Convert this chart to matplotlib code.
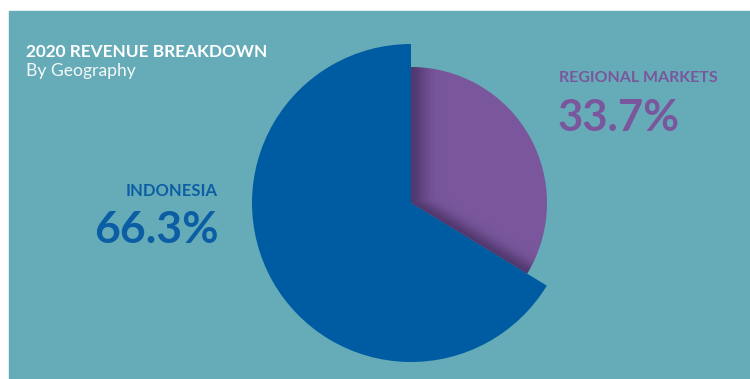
import numpy as np
import matplotlib as mpl
import matplotlib.pyplot as plt
from matplotlib.patches import Rectangle

mpl.rc('font', family=['Lato', 'DejaVu Sans'])

# data
labels = ['REGIONAL MARKETS', 'INDONESIA']
shares = [33.7, 66.3]
colors = ['#7a579c', '#005ca2']
teal = '#66acb8'

W, H = 750, 379
fig = plt.figure(figsize=(W / 100, H / 100), dpi=100, facecolor='white')
ax = fig.add_axes([0, 0, 1, 1])
ax.set_axis_off()

# teal panel
ax.add_patch(Rectangle((9, 0), W - 9, H - 11, color=teal, zorder=0))

cx, cy = 411, H - 203
wedges, _ = ax.pie(shares, colors=colors, startangle=90, counterclock=False,
                   center=(cx, cy), radius=159, frame=True,
                   wedgeprops={'linewidth': 0})
# smaller purple slice
wedges[0].set_radius(136)
for w in wedges:
    w.set_zorder(2)

# soft shadow on the purple slice along its two straight edges
ang = np.deg2rad(90 - 360 * shares[0] / 100)
xs = np.arange(cx, cx + 140) + 0.5
ys = np.arange(cy - 140, cy + 140) + 0.5
X, Y = np.meshgrid(xs, ys)
d1 = X - cx
d2 = np.abs(-(X - cx) * np.sin(ang) + (Y - cy) * np.cos(ang))
a = np.maximum(np.exp(-(d1 / 16) ** 2), np.exp(-(d2 / 11) ** 2)) * 0.5
img = np.zeros(X.shape + (4,))
img[..., 0] = 0.16
img[..., 1] = 0.1
img[..., 2] = 0.26
img[..., 3] = a
im = ax.imshow(img, extent=(xs[0] - 0.5, xs[-1] + 0.5, ys[0] - 0.5, ys[-1] + 0.5),
               origin='lower', zorder=3, interpolation='bilinear')
im.set_clip_path(wedges[0])

ax.set_xlim(0, W)
ax.set_ylim(0, H)
ax.set_aspect('auto')

# titles
ax.text(26, H - 57, '2020 REVENUE BREAKDOWN', color='white', fontsize=12.4,
        fontweight='bold', ha='left', va='baseline', zorder=5)
ax.text(26, H - 76, 'By Geography', color='#f4f8f9', fontsize=12.6,
        fontweight='normal', ha='left', va='baseline', zorder=5)

# labels
ax.text(559, H - 82, labels[0], color=colors[0], fontsize=11.5,
        fontweight='bold', ha='left', va='baseline', zorder=5)
ax.text(558, H - 131, f'{shares[0]}%', color=colors[0], fontsize=31.5,
        fontweight='bold', ha='left', va='baseline', zorder=5)
ax.text(218, H - 196, labels[1], color='#0c5ea4', fontsize=12,
        fontweight='bold', ha='right', va='baseline', zorder=5)
ax.text(219, H - 243, f'{shares[1]}%', color='#0c5ea4', fontsize=32,
        fontweight='bold', ha='right', va='baseline', zorder=5)

fig.savefig('out.png', dpi=100, facecolor='white')
